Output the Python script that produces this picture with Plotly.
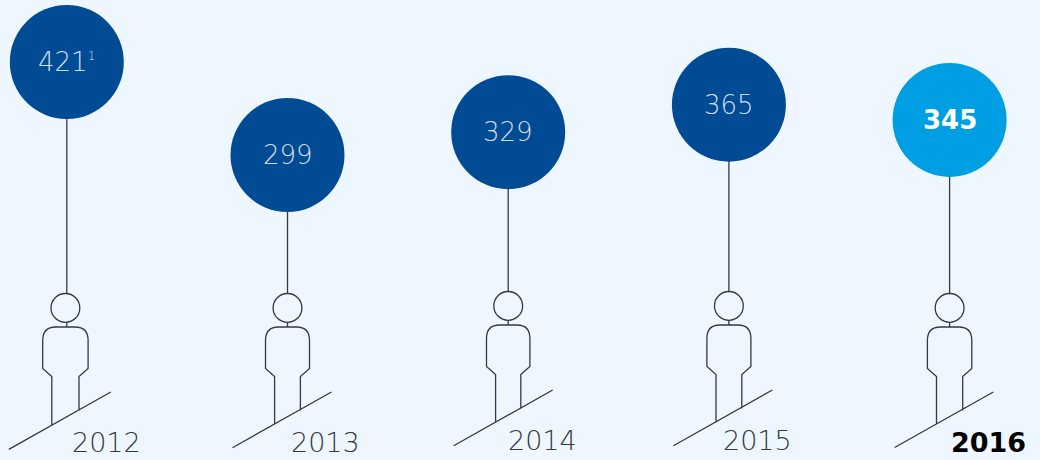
import plotly.graph_objects as go

# Figures per year
years = [2012, 2013, 2014, 2015, 2016]
values = [421, 299, 329, 365, 345]
value_labels = ['421<sup><span style="font-size:12px">1</span></sup>', "299", "329", "365", "345"]
year_labels = ["2012", "2013", "2014", "2015", "2016"]

# Balloon colours and the highlighted latest year
balloon_colors = ["#004b93", "#004b93", "#004b93", "#004b93", "#009fe3"]
text_colors = ["#d0deee", "#d0deee", "#d0deee", "#d0deee", "#ffffff"]

# Figure placement, in pixels
head_tops = [293.5, 293.5, 291.5, 291.5, 293.5]
body_shifts = [-1.4, 0, 0, 0, 0]
body_halves = [22.7, 22, 21.7, 22, 22.2]
ground_lefts = [-58, -55, -54.5, -55.5, -55]
ground_rights = [44, 44, 44.5, 43.5, 43.7]
year_shifts = [40, 38, 34, 29, 39]
year_rows = [442, 442, 440, 440, 442]

WIDTH, HEIGHT = 1040, 460
INK = "#343a40"
THIN_FONT = "'DejaVu Sans', sans-serif"


def paper_y(py):
    return 1 - py / HEIGHT


def value_at(py):
    # Inverse of the value axis below: pixel row to value
    return 299 - (py - 155) / 0.7623


def person_path(half, shift, left, right):
    """Outline of the figure in pixels relative to its stem, y up, origin at the head top."""
    leg_l, leg_r = shift - half + 9.1, shift + half - 9.1
    l, r = shift - half, shift + half
    head_r = 14.4
    cy = -head_r
    k = 0.5523 * head_r
    cx = shift
    head = (
        f"M{cx - head_r},{cy} "
        f"C{cx - head_r},{cy + k} {cx - k},{cy + head_r} {cx},{cy + head_r} "
        f"C{cx + k},{cy + head_r} {cx + head_r},{cy + k} {cx + head_r},{cy} "
        f"C{cx + head_r},{cy - k} {cx + k},{cy - head_r} {cx},{cy - head_r} "
        f"C{cx - k},{cy - head_r} {cx - head_r},{cy - k} {cx - head_r},{cy} Z"
    )
    neck = "M0,-28.5 L0,-33.5"
    body = (
        f"M{leg_l},-131 L{leg_l},-83 L{l},-75 L{l},-47 "
        f"Q{l},-33.5 {l + 13},-33.5 L{r - 13},-33.5 "
        f"Q{r},-33.5 {r},-47 L{r},-75 L{leg_r},-83 L{leg_r},-117"
    )
    # Slanted ground, rising to the right at a fixed slope
    slope = 56 / 99.5
    ground = f"M{left},{-98.5 - (right - left) * slope} L{right},-98.5"
    return " ".join([head, neck, body, ground])


fig = go.Figure()

# Stems run from each balloon down to the head of its figure
for year, value, top in zip(years, values, head_tops):
    fig.add_trace(
        go.Scatter(
            x=[year, year],
            y=[value, value_at(top)],
            mode="lines",
            line=dict(color=INK, width=1.3),
            hoverinfo="skip",
            showlegend=False,
        )
    )

# Balloons
fig.add_trace(
    go.Scatter(
        x=years,
        y=values,
        mode="markers",
        marker=dict(size=114, color=balloon_colors, line=dict(width=0)),
        showlegend=False,
    )
)

# Balloon values
for year, value, label, tcolor in zip(years, values, value_labels, text_colors):
    highlight = year == years[-1]
    fig.add_annotation(
        x=year,
        y=value,
        text=label,
        showarrow=False,
        xanchor="center",
        yanchor="middle",
        font=dict(
            family=THIN_FONT,
            size=26,
            color=tcolor,
            weight=700 if highlight else 200,
        ),
    )

# Figures standing on their slanted ground lines
for year, top, half, shift, left, right in zip(
    years, head_tops, body_halves, body_shifts, ground_lefts, ground_rights
):
    fig.add_shape(
        type="path",
        xref="x",
        yref="paper",
        xsizemode="pixel",
        ysizemode="pixel",
        xanchor=year,
        yanchor=paper_y(top),
        path=person_path(half, shift, left, right),
        line=dict(color=INK, width=1.3),
        layer="above",
    )

# Year captions
for year, label, shift, row in zip(years, year_labels, year_shifts, year_rows):
    highlight = year == years[-1]
    fig.add_annotation(
        x=year,
        xref="x",
        y=paper_y(row),
        yref="paper",
        xshift=shift,
        text=label,
        showarrow=False,
        xanchor="center",
        yanchor="middle",
        font=dict(
            family=THIN_FONT,
            size=27,
            color="#000000" if highlight else INK,
            weight=700 if highlight else 200,
        ),
    )

fig.update_layout(
    width=WIDTH,
    height=HEIGHT,
    margin=dict(l=0, r=0, t=0, b=0),
    paper_bgcolor="#eef7ff",
    plot_bgcolor="#eef7ff",
    showlegend=False,
    xaxis=dict(visible=False, range=[2012 - 66.8 / 220.7, 2012 + (1040 - 66.8) / 220.7], fixedrange=True),
    yaxis=dict(visible=False, range=[value_at(460), value_at(0)], fixedrange=True),
)

fig.write_html("out.html", config={"displayModeBar": False})
